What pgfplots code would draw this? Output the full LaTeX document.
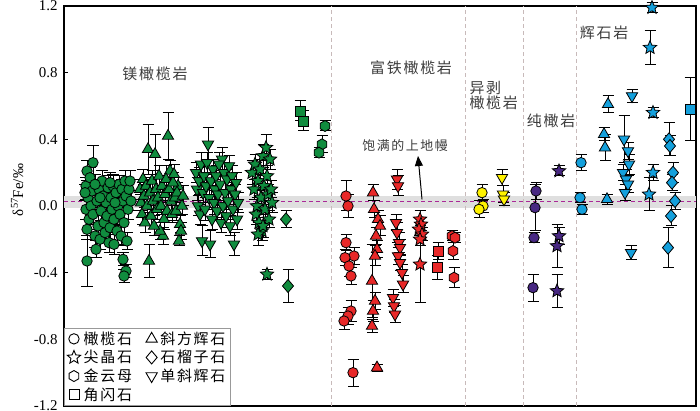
\documentclass[border=0pt]{standalone}
\usepackage{fontspec}
\setmainfont{Liberation Serif}
\newfontfamily\cjk[LetterSpace=12]{Noto Sans CJK SC}
\usepackage{pgfplots}
\pgfplotsset{compat=1.18}
\usetikzlibrary{arrows.meta}

\definecolor{cg}{RGB}{16,140,62}
\definecolor{cr}{RGB}{232,40,40}
\definecolor{cy}{RGB}{255,242,0}
\definecolor{cp}{RGB}{72,40,130}
\definecolor{cb}{RGB}{20,160,220}
\definecolor{cdash}{RGB}{170,40,150}
\definecolor{cdiv}{RGB}{200,186,186}
\definecolor{ctext}{RGB}{60,60,60}

% extra marks: filled star, hexagon, inverted triangle, rhombus
\pgfdeclareplotmark{fstar}{%
  \pgfpathmoveto{\pgfpointpolar{90}{\pgfplotmarksize}}%
  \pgfpathlineto{\pgfpointpolar{126}{0.45\pgfplotmarksize}}%
  \pgfpathlineto{\pgfpointpolar{162}{\pgfplotmarksize}}%
  \pgfpathlineto{\pgfpointpolar{198}{0.45\pgfplotmarksize}}%
  \pgfpathlineto{\pgfpointpolar{234}{\pgfplotmarksize}}%
  \pgfpathlineto{\pgfpointpolar{270}{0.45\pgfplotmarksize}}%
  \pgfpathlineto{\pgfpointpolar{306}{\pgfplotmarksize}}%
  \pgfpathlineto{\pgfpointpolar{342}{0.45\pgfplotmarksize}}%
  \pgfpathlineto{\pgfpointpolar{18}{\pgfplotmarksize}}%
  \pgfpathlineto{\pgfpointpolar{54}{0.45\pgfplotmarksize}}%
  \pgfpathclose\pgfusepathqfillstroke}
\pgfdeclareplotmark{hexa}{%
  \pgfpathmoveto{\pgfpointpolar{90}{\pgfplotmarksize}}%
  \pgfpathlineto{\pgfpointpolar{150}{\pgfplotmarksize}}%
  \pgfpathlineto{\pgfpointpolar{210}{\pgfplotmarksize}}%
  \pgfpathlineto{\pgfpointpolar{270}{\pgfplotmarksize}}%
  \pgfpathlineto{\pgfpointpolar{330}{\pgfplotmarksize}}%
  \pgfpathlineto{\pgfpointpolar{30}{\pgfplotmarksize}}%
  \pgfpathclose\pgfusepathqfillstroke}
\pgfdeclareplotmark{itri}{%
  \pgfpathmoveto{\pgfpointpolar{270}{\pgfplotmarksize}}%
  \pgfpathlineto{\pgfpointpolar{30}{\pgfplotmarksize}}%
  \pgfpathlineto{\pgfpointpolar{150}{\pgfplotmarksize}}%
  \pgfpathclose\pgfusepathqfillstroke}
\pgfdeclareplotmark{dia}{%
  \pgfpathmoveto{\pgfpoint{0pt}{\pgfplotmarksize}}%
  \pgfpathlineto{\pgfpoint{0.85\pgfplotmarksize}{0pt}}%
  \pgfpathlineto{\pgfpoint{0pt}{-\pgfplotmarksize}}%
  \pgfpathlineto{\pgfpoint{-0.85\pgfplotmarksize}{0pt}}%
  \pgfpathclose\pgfusepathqfillstroke}

\pgfplotsset{
  grp/.style={only marks, forget plot,
    mark options={draw=black, line width=0.8bp, fill=#1},
    error bars/y dir=both, error bars/y explicit,
    error bars/error bar style={black, line width=1bp},
    error bars/error mark options={rotate=90, mark size=5.5bp, black, line width=1bp}},
  leg/.style={only marks, mark options={draw=black, line width=0.9bp, fill=white}},
  ol/.style={mark=*, mark size=5.2bp},
  opx/.style={mark=triangle*, mark size=6.5bp},
  cpx/.style={mark=itri, mark size=6.5bp},
  spl/.style={mark=fstar, mark size=7bp},
  grt/.style={mark=dia, mark size=6.5bp},
  amp/.style={mark=square*, mark size=5bp},
  phl/.style={mark=hexa, mark size=5.5bp},
}

\begin{document}
\begin{tikzpicture}
\useasboundingbox (-64bp,-5bp) rectangle (636bp,406bp);
\begin{axis}[
  at={(0,0)}, anchor=south west,
  scale only axis, width=632bp, height=400bp,
  xmin=64, xmax=696, ymin=-1.2, ymax=1.2,
  clip=false,
  xtick=\empty,
  ytick={-1.2,-0.8,-0.4,0,0.4,0.8,1.2},
  yticklabels={-1.2,-0.8,-0.4,0.0,0.4,0.8,1.2},
  ytick pos=left, tick align=inside, major tick length=4bp,
  tick style={black, line width=0.8bp},
  axis line style={line width=1.2bp},
  yticklabel style={font=\fontsize{15}{15}\selectfont, xshift=-3bp},
  ylabel={δ\textsuperscript{57}Fe/‰},
  ylabel style={font=\fontsize{15}{15}\selectfont, at={(axis description cs:-0.074,0.54)}, anchor=center},
  legend columns=2, legend cell align=left,
  legend image code/.code={\draw[mark repeat=2,mark phase=2,#1] plot coordinates {(0bp,0bp) (6bp,0bp) (12bp,0bp)};},
  legend style={at={(0,0)}, anchor=south west, draw=gray!80, line width=0.6bp, fill=white,
    font=\cjk\fontsize{15}{17}\selectfont, inner xsep=3bp, inner ysep=2bp, row sep=0.5bp,
    /tikz/every odd column/.append style={column sep=1bp},
    /tikz/every even column/.append style={column sep=12bp}},
]
% mantle band and dividers
\addplot[forget plot, draw=none, fill=gray!25] coordinates {(64,-0.01) (696,-0.01) (696,0.06) (64,0.06)} -- cycle;
\addplot[forget plot, cdash, line width=1.2bp, dash pattern=on 4bp off 3bp] coordinates {(64,0.025) (696,0.025)};
\addplot[forget plot, cdiv, line width=0.8bp, dash pattern=on 4bp off 3bp] coordinates {(331,-1.2) (331,1.2)};
\addplot[forget plot, cdiv, line width=0.8bp, dash pattern=on 4bp off 3bp] coordinates {(465,-1.2) (465,1.2)};
\addplot[forget plot, cdiv, line width=0.8bp, dash pattern=on 4bp off 3bp] coordinates {(523,-1.2) (523,1.2)};
\addplot[forget plot, cdiv, line width=0.8bp, dash pattern=on 4bp off 3bp] coordinates {(576,-1.2) (576,1.2)};

% ---- Mg-rich group green ----
\addplot[grp=cg, ol] table[x=x, y=y, y error=e, row sep=\\] {
x y e\\
87 0.21 0.06\\ 93 0.26 0.10\\ 87 -0.33 0.15\\ 86 0.12 0.05\\ 88 0.05 0.05\\ 86 -0.02 0.06\\
89 -0.08 0.06\\ 87 -0.14 0.06\\ 91 0.00 0.06\\ 92 0.09 0.05\\ 93 -0.05 0.06\\ 95 -0.18 0.07\\
96 -0.26 0.05\\ 97 0.03 0.05\\ 98 -0.12 0.06\\ 99 0.10 0.06\\ 100 -0.20 0.06\\ 101 -0.03 0.06\\
102 0.15 0.06\\ 103 0.06 0.06\\ 104 -0.10 0.07\\ 105 -0.16 0.06\\ 106 0.02 0.05\\ 107 -0.06 0.06\\
108 0.11 0.07\\ 109 -0.22 0.06\\ 110 -0.13 0.07\\ 111 0.05 0.05\\ 112 -0.02 0.06\\ 113 0.12 0.07\\
114 -0.23 0.06\\ 114 -0.08 0.06\\ 116 0.08 0.06\\ 117 -0.15 0.08\\ 118 0.00 0.06\\ 119 0.13 0.05\\
120 -0.05 0.06\\ 121 -0.18 0.06\\ 122 0.10 0.06\\ 123 0.03 0.07\\ 124 -0.10 0.06\\ 125 0.15 0.06\\
126 0.06 0.05\\ 127 -0.21 0.05\\ 128 -0.02 0.06\\ 129 0.10 0.05\\ 130 0.15 0.06\\ 131 0.03 0.06\\
123 -0.32 0.04\\ 126 -0.39 0.04\\ 124 -0.42 0.04\\ 90 0.17 0.06\\ 95 0.13 0.06\\ 110 0.14 0.06\\
100 0.05 0.06\\ 115 0.02 0.06\\ 85 0.08 0.05\\
};
\addplot[grp=cg, opx] table[x=x, y=y, y error=e, row sep=\\] {
x y e\\
148 0.34 0.15\\ 155 0.31 0.12\\ 168 0.42 0.14\\ 149 -0.33 0.10\\ 179 -0.21 0.03\\ 180 -0.11 0.05\\
163 -0.18 0.05\\ 160 -0.15 0.05\\ 170 0.21 0.06\\ 178 0.12 0.05\\ 143 0.16 0.06\\ 140 0.10 0.06\\
141 0.02 0.05\\ 142 -0.05 0.06\\ 144 0.06 0.07\\ 145 -0.10 0.06\\ 146 0.12 0.05\\ 147 0.00 0.06\\
150 0.08 0.08\\ 151 -0.06 0.06\\ 152 0.15 0.06\\ 153 0.03 0.05\\ 154 -0.12 0.06\\ 156 0.10 0.07\\
157 -0.02 0.06\\ 158 0.05 0.05\\ 159 0.18 0.06\\ 161 0.00 0.05\\ 162 0.12 0.06\\ 164 -0.08 0.06\\
165 0.07 0.05\\ 166 0.16 0.08\\ 167 -0.03 0.06\\ 169 0.10 0.05\\ 171 0.03 0.06\\ 172 -0.05 0.05\\
173 0.14 0.06\\ 174 0.19 0.06\\ 175 0.05 0.05\\ 176 -0.03 0.06\\ 177 0.08 0.06\\ 182 0.00 0.05\\
183 0.06 0.06\\ 181 -0.15 0.05\\
};
\addplot[grp=cg, cpx] table[x=x, y=y, y error=e, row sep=\\] {
x y e\\
208 0.37 0.10\\ 222 0.28 0.07\\ 202 -0.21 0.09\\ 210 -0.23 0.08\\ 234 -0.23 0.07\\ 196 0.20 0.06\\
197 0.10 0.07\\ 198 0.00 0.06\\ 199 0.15 0.08\\ 200 -0.05 0.06\\ 201 0.25 0.07\\ 203 0.08 0.06\\
204 0.18 0.06\\ 205 -0.02 0.07\\ 206 0.12 0.07\\ 207 0.26 0.06\\ 209 0.05 0.06\\ 211 0.15 0.08\\
212 -0.08 0.06\\ 213 0.22 0.06\\ 214 0.02 0.07\\ 215 0.10 0.06\\ 216 0.18 0.06\\ 217 -0.03 0.06\\
218 0.07 0.07\\ 219 0.25 0.07\\ 220 0.13 0.06\\ 221 -0.10 0.06\\ 223 0.00 0.07\\ 224 0.20 0.06\\
225 0.08 0.06\\ 226 -0.06 0.07\\ 227 0.16 0.06\\ 228 0.03 0.05\\ 229 0.24 0.06\\ 230 -0.12 0.06\\
231 0.10 0.06\\ 232 0.18 0.06\\ 233 -0.02 0.06\\ 235 0.07 0.06\\ 236 0.14 0.06\\ 237 -0.08 0.06\\
238 0.02 0.06\\
};
\addplot[grp=cg, spl] table[x=x, y=y, y error=e, row sep=\\] {
x y e\\
252 0.20 0.07\\ 254 0.10 0.06\\ 255 0.25 0.06\\ 256 -0.05 0.06\\ 257 0.00 0.05\\ 258 0.15 0.06\\
259 -0.10 0.07\\ 260 0.22 0.06\\ 261 0.05 0.05\\ 262 -0.15 0.06\\ 263 0.30 0.07\\ 264 0.12 0.06\\
265 -0.02 0.05\\ 266 0.35 0.08\\ 267 0.18 0.06\\ 268 0.07 0.06\\ 269 -0.08 0.05\\ 270 0.28 0.06\\
271 0.10 0.05\\ 272 0.02 0.06\\ 263 -0.12 0.07\\ 258 -0.17 0.07\\ 267 -0.41 0.03\\
};
\addplot[grp=cg, grt] table[x=x, y=y, y error=e, row sep=\\] {
x y e\\ 286 -0.08 0.05\\ 288 -0.48 0.10\\
};
\addplot[grp=cg, amp] table[x=x, y=y, y error=e, row sep=\\] {
x y e\\ 300 0.57 0.06\\ 303 0.51 0.06\\
};
\addplot[grp=cg, phl] table[x=x, y=y, y error=e, row sep=\\] {
x y e\\ 325 0.48 0.03\\ 322 0.37 0.05\\ 319 0.32 0.03\\
};

% ---- Fe-rich group red ----
\addplot[grp=cr, ol] table[x=x, y=y, y error=e, row sep=\\] {
x y e\\
346 0.06 0.09\\ 348 0.00 0.07\\ 346 -0.22 0.05\\ 354 -0.30 0.05\\ 345 -0.31 0.05\\ 349 -0.36 0.06\\
351 -0.42 0.05\\ 351 -0.63 0.06\\ 348 -0.66 0.05\\ 344 -0.69 0.05\\ 353 -1.00 0.08\\
};
\addplot[grp=cr, opx] table[x=x, y=y, y error=e, row sep=\\] {
x y e\\
373 0.08 0.05\\ 374 -0.02 0.05\\ 378 -0.08 0.05\\ 380 -0.12 0.06\\ 376 -0.18 0.05\\ 377 -0.26 0.05\\
375 -0.30 0.06\\ 372 -0.45 0.22\\ 375 -0.57 0.05\\ 373 -0.63 0.06\\ 372 -0.72 0.04\\ 377 -0.97 0.02\\
};
\addplot[grp=cr, cpx] table[x=x, y=y, y error=e, row sep=\\] {
x y e\\
397 0.16 0.06\\ 398 0.12 0.06\\ 396 -0.10 0.05\\ 397 -0.16 0.06\\ 399 -0.22 0.06\\ 400 -0.25 0.05\\
398 -0.30 0.05\\ 400 -0.34 0.05\\ 402 -0.40 0.05\\ 403 -0.47 0.05\\ 393 -0.55 0.05\\ 394 -0.60 0.04\\
395 -0.65 0.05\\
};
\addplot[grp=cr, spl] table[x=x, y=y, y error=e, row sep=\\] {
x y e\\
420 -0.08 0.05\\ 421 -0.11 0.04\\ 419 -0.14 0.04\\ 422 -0.17 0.04\\ 420 -0.20 0.04\\ 420 -0.35 0.23\\
};
\addplot[grp=cr, amp] table[x=x, y=y, y error=e, row sep=\\] {
x y e\\ 438 -0.27 0.05\\ 437 -0.37 0.07\\
};
\addplot[grp=cr, phl] table[x=x, y=y, y error=e, row sep=\\] {
x y e\\ 452 -0.18 0.03\\ 455 -0.19 0.03\\ 453 -0.27 0.05\\ 454 -0.43 0.06\\
};

% ---- wehrlite yellow ----
\addplot[grp=cy, ol] table[x=x, y=y, y error=e, row sep=\\] {
x y e\\ 482 0.08 0.05\\ 483 0.00 0.04\\ 479 -0.02 0.05\\
};
\addplot[grp=cy, cpx] table[x=x, y=y, y error=e, row sep=\\] {
x y e\\ 502 0.17 0.05\\ 503 0.07 0.05\\ 504 0.04 0.04\\
};

% ---- dunite purple ----
\addplot[grp=cp, ol] table[x=x, y=y, y error=e, row sep=\\] {
x y e\\ 536 0.09 0.05\\ 535 -0.01 0.14\\ 534 -0.19 0.03\\ 533 -0.49 0.08\\
};
\addplot[grp=cp, spl] table[x=x, y=y, y error=e, row sep=\\] {
x y e\\ 559 0.21 0.03\\ 559 -0.18 0.05\\ 557 -0.24 0.13\\ 557 -0.51 0.10\\
};

% ---- pyroxenite blue ----
\addplot[grp=cb, ol] table[x=x, y=y, y error=e, row sep=\\] {
x y e\\ 581 0.26 0.05\\ 580 0.05 0.03\\ 582 -0.02 0.03\\
};
\addplot[grp=cb, opx] table[x=x, y=y, y error=e, row sep=\\] {
x y e\\ 608 0.61 0.05\\ 604 0.43 0.04\\ 605 0.35 0.08\\ 607 0.04 0.03\\
};
\addplot[grp=cb, cpx] table[x=x, y=y, y error=e, row sep=\\] {
x y e\\
632 0.66 0.04\\ 624 0.40 0.14\\ 628 0.33 0.05\\ 629 0.25 0.06\\ 623 0.20 0.05\\ 626 0.16 0.06\\
628 0.13 0.05\\ 625 0.08 0.05\\ 631 -0.28 0.04\\
};
\addplot[grp=cb, spl] table[x=x, y=y, y error=e, row sep=\\] {
x y e\\ 652 1.19 0.03\\ 650 0.95 0.10\\ 653 0.56 0.03\\ 653 0.20 0.05\\ 649 0.07 0.10\\
};
\addplot[grp=cb, grt] table[x=x, y=y, y error=e, row sep=\\] {
x y e\\ 669 0.40 0.10\\ 670 0.36 0.06\\ 673 0.20 0.06\\ 672 0.14 0.05\\ 675 0.03 0.05\\ 671 -0.06 0.06\\ 668 -0.25 0.12\\
};
\addplot[grp=cb, amp] table[x=x, y=y, y error=e, row sep=\\] {
x y e\\ 690 0.58 0.19\\
};

% ---- labels ----
\node[font=\cjk\fontsize{15}{18}\selectfont, text=ctext] at (axis cs:155,0.79) {镁橄榄岩};
\node[font=\cjk\fontsize{15}{18}\selectfont, text=ctext] at (axis cs:411,0.83) {富铁橄榄岩};
\node[font=\cjk\fontsize{15}{18}\selectfont, text=ctext, anchor=west] at (axis cs:466,0.71) {异剥};
\node[font=\cjk\fontsize{15}{18}\selectfont, text=ctext, anchor=west] at (axis cs:466,0.62) {橄榄岩};
\node[font=\cjk\fontsize{15}{18}\selectfont, text=ctext] at (axis cs:551,0.51) {纯橄岩};
\node[font=\cjk\fontsize{15}{18}\selectfont, text=ctext] at (axis cs:604,1.04) {辉石岩};
\node[font=\cjk\fontsize{13}{16}\selectfont, text=ctext] at (axis cs:405,0.36) {饱满的上地幔};
\draw[-{Triangle[length=10bp,width=8bp]}, line width=1bp] (axis cs:422,0.04) -- (axis cs:418,0.30);

% ---- legend ----
\addlegendimage{leg, ol}\addlegendentry{橄榄石}
\addlegendimage{leg, opx}\addlegendentry{斜方辉石}
\addlegendimage{leg, spl}\addlegendentry{尖晶石}
\addlegendimage{leg, grt}\addlegendentry{石榴子石}
\addlegendimage{leg, phl}\addlegendentry{金云母}
\addlegendimage{leg, cpx}\addlegendentry{单斜辉石}
\addlegendimage{leg, amp}\addlegendentry{角闪石}
\end{axis}
\end{tikzpicture}
\end{document}
